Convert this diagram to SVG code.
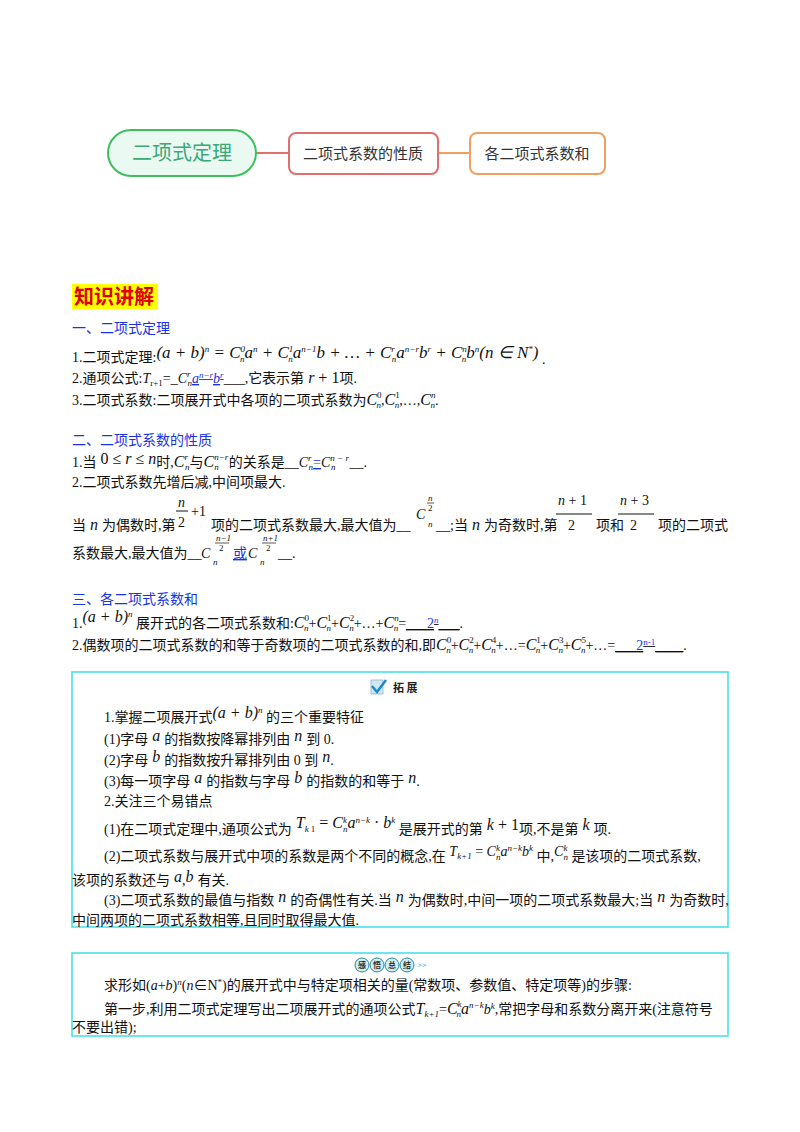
<svg xmlns="http://www.w3.org/2000/svg" width="800" height="1132" viewBox="0 0 800 1132">
<style>
.t{font-family:"Liberation Serif","Noto Sans CJK SC",serif;font-size:14px;fill:#111}
.m{font-family:"Liberation Serif",serif;font-style:italic}
.s{font-size:9px}
.h{font-family:"Noto Sans CJK SC",sans-serif;font-size:14px;fill:#1a33e6}
.bl{fill:#1a33e6}
.box{fill:none;stroke:#3ee0e8;stroke-width:1.5}
.n{font-family:"Noto Sans CJK SC",sans-serif;font-size:15px;fill:#333}
</style>
<rect width="800" height="1132" fill="#fff"/>
<g id="connectors" stroke-width="2">
<line x1="256" y1="153" x2="289" y2="153" stroke="#e07070"/>
<line x1="438" y1="153" x2="470" y2="153" stroke="#f0a060"/>
</g>
<g id="root"><rect x="108" y="130" width="148" height="46" rx="23" fill="#eafaf3" stroke="#3cbf5c" stroke-width="2"/>
<text x="182" y="160" text-anchor="middle" font-family="Noto Sans CJK SC,sans-serif" font-size="20" fill="#3aa878">二项式定理</text></g>
<g id="n1"><rect x="289" y="133" width="149" height="41" rx="7" fill="#fff" stroke="#e07070" stroke-width="2"/>
<text x="363" y="159" text-anchor="middle" class="n">二项式系数的性质</text></g>
<g id="n2"><rect x="470" y="133" width="135" height="41" rx="7" fill="#fff" stroke="#f0a060" stroke-width="2"/>
<text x="537" y="159" text-anchor="middle" class="n">各二项式系数和</text></g>

<rect x="72" y="284" width="86" height="25" fill="#ffff00"/>
<text x="74" y="304" font-family="Noto Sans CJK SC,sans-serif" font-size="20" font-weight="bold" fill="#e00000">知识讲解</text>

<text x="72" y="333" class="h">一、二项式定理</text>
<text x="72" y="362" class="t">1.二项式定理:<tspan class="m" font-size="17" dy="-4">(a + b)<tspan class="s" dy="-6">n</tspan><tspan dy="6"> = C</tspan><tspan class="s" dy="-6">0</tspan><tspan class="s" dx="-5" dy="10">n</tspan><tspan dy="-4">a</tspan><tspan class="s" dy="-6">n</tspan><tspan dy="6"> + C</tspan><tspan class="s" dy="-6">1</tspan><tspan class="s" dx="-5" dy="10">n</tspan><tspan dy="-4">a</tspan><tspan class="s" dy="-6">n−1</tspan><tspan dy="6">b + … + C</tspan><tspan class="s" dy="-6">r</tspan><tspan class="s" dx="-3" dy="10">n</tspan><tspan dy="-4">a</tspan><tspan class="s" dy="-6">n−r</tspan><tspan dy="6">b</tspan><tspan class="s" dy="-6">r</tspan><tspan dy="6"> + C</tspan><tspan class="s" dy="-6">n</tspan><tspan class="s" dx="-5" dy="10">n</tspan><tspan dy="-4">b</tspan><tspan class="s" dy="-6">n</tspan><tspan dy="6">(n ∈ N</tspan><tspan class="s" dy="-6">*</tspan><tspan dy="6">)</tspan></tspan><tspan dy="6"> .</tspan></text>
<text x="72" y="383" class="t">2.通项公式:<tspan class="m">T</tspan><tspan class="s" dy="3">r+1</tspan><tspan dy="-3">=_</tspan><tspan class="m">C</tspan><tspan class="s m" dy="-6">r</tspan><tspan class="s m" dx="-3" dy="9">n</tspan><tspan class="m bl" dy="-3" text-decoration="underline">a<tspan class="s" dy="-5">n−r</tspan><tspan dy="5">b</tspan><tspan class="s" dy="-5">r</tspan></tspan><tspan dy="5">___,它表示第</tspan><tspan class="m" font-size="16"> r</tspan><tspan font-size="16"> + 1</tspan><tspan>项.</tspan></text>
<text x="72" y="405" class="t">3.二项式系数:二项展开式中各项的二项式系数为<tspan class="m" font-size="16">C</tspan><tspan class="s" dy="-7">0</tspan><tspan class="s m" dx="-5" dy="10">n</tspan><tspan dy="-3">,</tspan><tspan class="m" font-size="16">C</tspan><tspan class="s" dy="-7">1</tspan><tspan class="s m" dx="-5" dy="10">n</tspan><tspan dy="-3">,…,</tspan><tspan class="m" font-size="16">C</tspan><tspan class="s m" dy="-7">n</tspan><tspan class="s m" dx="-5" dy="10">n</tspan><tspan dy="-3">.</tspan></text>

<text x="72" y="445" class="h">二、二项式系数的性质</text>
<text x="72" y="467" class="t">1.当<tspan font-size="16" dy="-3"> 0 ≤ </tspan><tspan class="m" font-size="16">r</tspan><tspan font-size="16"> ≤ </tspan><tspan class="m" font-size="16">n</tspan><tspan dy="3">时,</tspan><tspan class="m" font-size="16">C</tspan><tspan class="s m" dy="-7">r</tspan><tspan class="s m" dx="-3" dy="10">n</tspan><tspan dy="-3">与</tspan><tspan class="m" font-size="16">C</tspan><tspan class="s m" dy="-7">n−r</tspan><tspan class="s m" dx="-14" dy="10">n</tspan><tspan dy="-3" dx="10">的关系是__</tspan><tspan class="m">C</tspan><tspan class="s m" dy="-6">r</tspan><tspan class="s m" dx="-3" dy="9">n</tspan><tspan class="bl" dy="-3" text-decoration="underline">=</tspan><tspan class="m">C</tspan><tspan class="s m" dy="-6">n − r</tspan><tspan class="s m" dx="-18" dy="9">n</tspan><tspan dy="-3" dx="14">__.</tspan></text>
<text x="72" y="487" class="t">2.二项式系数先增后减,中间项最大.</text>
<g>
<text x="178" y="507" class="m t" font-size="16">n</text>
<line x1="176" y1="511" x2="188" y2="511" stroke="#111"/>
<text x="178" y="527" class="t" font-size="16">2</text>
<text x="191" y="516" class="t" font-size="16">+1</text>
<text x="558" y="505" class="t" font-size="16"><tspan class="m">n</tspan> + 1</text>
<line x1="556" y1="514" x2="592" y2="514" stroke="#111"/>
<text x="568" y="530" class="t" font-size="16">2</text>
<text x="620" y="505" class="t" font-size="16"><tspan class="m">n</tspan> + 3</text>
<line x1="618" y1="514" x2="654" y2="514" stroke="#111"/>
<text x="630" y="530" class="t" font-size="16">2</text>
<text x="416" y="519" class="m t" font-size="16">C</text>
<text x="428" y="527" class="m t s">n</text>
<text x="428" y="501" class="m t s">n</text><line x1="427" y1="503" x2="434" y2="503" stroke="#111" stroke-width="0.7"/><text x="428" y="511" class="t s">2</text>
</g>
<text x="72" y="530" class="t">当<tspan class="m" font-size="16"> n </tspan>为偶数时,第</text>
<text x="211" y="530" class="t">项的二项式系数最大,最大值为__</text>
<text x="436" y="530" class="t">__;当<tspan class="m" font-size="16"> n </tspan>为奇数时,第</text>
<text x="596" y="530" class="t">项和</text>
<text x="658" y="530" class="t">项的二项式</text>
<text x="72" y="558" class="t">系数最大,最大值为__</text>
<g>
<text x="201" y="558" class="t m" font-size="16">C</text><text x="213" y="565" class="t m s">n</text>
<text x="216" y="541" class="t s m">n−1</text><line x1="215" y1="543" x2="229" y2="543" stroke="#111" stroke-width="0.7"/><text x="219" y="551" class="t s">2</text>
<text x="233" y="558" class="t bl" text-decoration="underline">或</text>
<text x="248" y="558" class="t m" font-size="16">C</text><text x="260" y="565" class="t m s">n</text>
<text x="263" y="541" class="t s m">n+1</text><line x1="262" y1="543" x2="276" y2="543" stroke="#111" stroke-width="0.7"/><text x="266" y="551" class="t s">2</text>
<text x="278" y="558" class="t">__.</text>
</g>

<text x="72" y="604" class="h">三、各二项式系数和</text>
<text x="72" y="628" class="t">1.<tspan class="m" font-size="16" dy="-6">(a + b)</tspan><tspan class="m s" dy="-5">n</tspan><tspan dy="11"> 展开式的各二项式系数和:</tspan><tspan class="m" font-size="16">C</tspan><tspan class="s" dy="-7">0</tspan><tspan class="s m" dx="-5" dy="10">n</tspan><tspan dy="-3">+</tspan><tspan class="m" font-size="16">C</tspan><tspan class="s" dy="-7">1</tspan><tspan class="s m" dx="-5" dy="10">n</tspan><tspan dy="-3">+</tspan><tspan class="m" font-size="16">C</tspan><tspan class="s" dy="-7">2</tspan><tspan class="s m" dx="-5" dy="10">n</tspan><tspan dy="-3">+…+</tspan><tspan class="m" font-size="16">C</tspan><tspan class="s m" dy="-7">n</tspan><tspan class="s m" dx="-5" dy="10">n</tspan><tspan dy="-3">=</tspan><tspan text-decoration="underline">___<tspan class="bl">2</tspan><tspan class="bl s m" dy="-5">n</tspan><tspan dy="5">___</tspan></tspan><tspan>.</tspan></text>
<text x="72" y="650" class="t">2.偶数项的二项式系数的和等于奇数项的二项式系数的和,即<tspan class="m" font-size="16">C</tspan><tspan class="s" dy="-7">0</tspan><tspan class="s m" dx="-5" dy="10">n</tspan><tspan dy="-3">+</tspan><tspan class="m" font-size="16">C</tspan><tspan class="s" dy="-7">2</tspan><tspan class="s m" dx="-5" dy="10">n</tspan><tspan dy="-3">+</tspan><tspan class="m" font-size="16">C</tspan><tspan class="s" dy="-7">4</tspan><tspan class="s m" dx="-5" dy="10">n</tspan><tspan dy="-3">+…=</tspan><tspan class="m" font-size="16">C</tspan><tspan class="s" dy="-7">1</tspan><tspan class="s m" dx="-5" dy="10">n</tspan><tspan dy="-3">+</tspan><tspan class="m" font-size="16">C</tspan><tspan class="s" dy="-7">3</tspan><tspan class="s m" dx="-5" dy="10">n</tspan><tspan dy="-3">+</tspan><tspan class="m" font-size="16">C</tspan><tspan class="s" dy="-7">5</tspan><tspan class="s m" dx="-5" dy="10">n</tspan><tspan dy="-3">+…=</tspan><tspan text-decoration="underline">___<tspan class="bl">2</tspan><tspan class="bl s" dy="-5">n-1</tspan><tspan dy="5">____</tspan></tspan><tspan>.</tspan></text>

<g id="box1">
<rect x="72" y="672" width="656" height="255" class="box"/>
<path d="M371 680 h12 v14 h-12 z" fill="#cfe8f5" stroke="#8ab" stroke-width="0.7"/>
<path d="M372 686 l5 6 l9 -12" fill="none" stroke="#1a8acc" stroke-width="2.5"/>
<text x="393" y="692" font-family="Noto Sans CJK SC,sans-serif" font-size="11" font-weight="bold" fill="#222">拓 展</text>
<text x="104" y="722" class="t">1.掌握二项展开式<tspan class="m" font-size="16" dy="-4">(a + b)</tspan><tspan class="m s" dy="-5">n</tspan><tspan dy="9"> 的三个重要特征</tspan></text>
<text x="104" y="744" class="t">(1)字母<tspan class="m" font-size="16" dy="-3"> a </tspan><tspan dy="3">的指数按降幂排列由</tspan><tspan class="m" font-size="16" dy="-3"> n </tspan><tspan dy="3">到 0.</tspan></text>
<text x="104" y="765" class="t">(2)字母<tspan class="m" font-size="16" dy="-3"> b </tspan><tspan dy="3">的指数按升幂排列由 0 到</tspan><tspan class="m" font-size="16" dy="-3"> n</tspan><tspan dy="3">.</tspan></text>
<text x="104" y="786" class="t">(3)每一项字母<tspan class="m" font-size="16" dy="-3"> a </tspan><tspan dy="3">的指数与字母</tspan><tspan class="m" font-size="16" dy="-3"> b </tspan><tspan dy="3">的指数的和等于</tspan><tspan class="m" font-size="16" dy="-3"> n</tspan><tspan dy="3">.</tspan></text>
<text x="104" y="806" class="t">2.关注三个易错点</text>
<text x="104" y="834" class="t">(1)在二项式定理中,通项公式为<tspan class="m" font-size="16" dy="-6"> T</tspan><tspan class="s m" dy="4">k</tspan><tspan class="s" dx="2">1</tspan><tspan font-size="16" dy="-4"> = </tspan><tspan class="m" font-size="16">C</tspan><tspan class="s m" dy="-5">k</tspan><tspan class="s m" dx="-4" dy="9">n</tspan><tspan class="m" font-size="16" dy="-4">a</tspan><tspan class="s m" dy="-5">n−k</tspan><tspan font-size="16" dy="5"> · </tspan><tspan class="m" font-size="16">b</tspan><tspan class="s m" dy="-5">k</tspan><tspan dy="11"> 是展开式的第</tspan><tspan class="m" font-size="16" dy="-4"> k</tspan><tspan font-size="16"> + 1</tspan><tspan dy="4">项,不是第</tspan><tspan class="m" font-size="16" dy="-4"> k </tspan><tspan dy="4">项.</tspan></text>
<text x="104" y="861" class="t">(2)二项式系数与展开式中项的系数是两个不同的概念,在<tspan class="m" font-size="14" dy="-5"> T</tspan><tspan class="s m" dy="3">k+1</tspan><tspan dy="-3"> = </tspan><tspan class="m">C</tspan><tspan class="s m" dy="-5">k</tspan><tspan class="s m" dx="-4" dy="9">n</tspan><tspan class="m" dy="-4">a</tspan><tspan class="s m" dy="-5">n−k</tspan><tspan class="m" dy="5">b</tspan><tspan class="s m" dy="-5">k</tspan><tspan dy="10"> 中,</tspan><tspan class="m" dy="-5">C</tspan><tspan class="s m" dy="-5">k</tspan><tspan class="s m" dx="-4" dy="9">n</tspan><tspan dy="1"> 是该项的二项式系数,</tspan></text>
<text x="72" y="885" class="t">该项的系数还与<tspan class="m" font-size="16" dy="-3"> a</tspan><tspan dy="3">,</tspan><tspan class="m" font-size="16" dy="-3">b </tspan><tspan dy="3">有关.</tspan></text>
<text x="104" y="905" class="t">(3)二项式系数的最值与指数<tspan class="m" font-size="16" dy="-3"> n </tspan><tspan dy="3">的奇偶性有关.当</tspan><tspan class="m" font-size="16" dy="-3"> n </tspan><tspan dy="3">为偶数时,中间一项的二项式系数最大;当</tspan><tspan class="m" font-size="16" dy="-3"> n </tspan><tspan dy="3">为奇数时,</tspan></text>
<text x="72" y="925" class="t">中间两项的二项式系数相等,且同时取得最大值.</text>
</g>

<g id="box2">
<rect x="72" y="953" width="656" height="83" class="box"/>
<g font-family="Noto Sans CJK SC,sans-serif" font-size="8" font-weight="bold" fill="#333" text-anchor="middle">
<circle cx="362" cy="965" r="7" fill="#cfeef3" stroke="#2a8a9a"/><text x="362" y="968">感</text>
<circle cx="377" cy="965" r="7" fill="#cfeef3" stroke="#2a8a9a"/><text x="377" y="968">悟</text>
<circle cx="392" cy="965" r="7" fill="#cfeef3" stroke="#2a8a9a"/><text x="392" y="968">总</text>
<circle cx="407" cy="965" r="7" fill="#cfeef3" stroke="#2a8a9a"/><text x="407" y="968">结</text>
<text x="422" y="968" fill="#3ac" font-weight="normal">&gt;&gt;</text>
</g>
<text x="104" y="990" class="t">求形如(<tspan class="m">a</tspan>+<tspan class="m">b</tspan>)<tspan class="s m" dy="-5">n</tspan><tspan dy="5">(</tspan><tspan class="m">n</tspan>∈N<tspan class="s" dy="-5">*</tspan><tspan dy="5">)的展开式中与特定项相关的量(常数项、参数值、特定项等)的步骤:</tspan></text>
<text x="104" y="1014" class="t">第一步,利用二项式定理写出二项展开式的通项公式<tspan class="m" font-size="16">T</tspan><tspan class="s m" dy="3">k+1</tspan><tspan dy="-3">=</tspan><tspan class="m" font-size="16">C</tspan><tspan class="s m" dy="-7">k</tspan><tspan class="s m" dx="-5" dy="10">n</tspan><tspan class="m" font-size="16" dy="-3">a</tspan><tspan class="s m" dy="-6">n−k</tspan><tspan class="m" dy="6">b</tspan><tspan class="s m" dy="-5">k</tspan><tspan dy="5">,常把字母和系数分离开来(注意符号</tspan></text>
<text x="72" y="1032" class="t">不要出错);</text>
</g>
</svg>
